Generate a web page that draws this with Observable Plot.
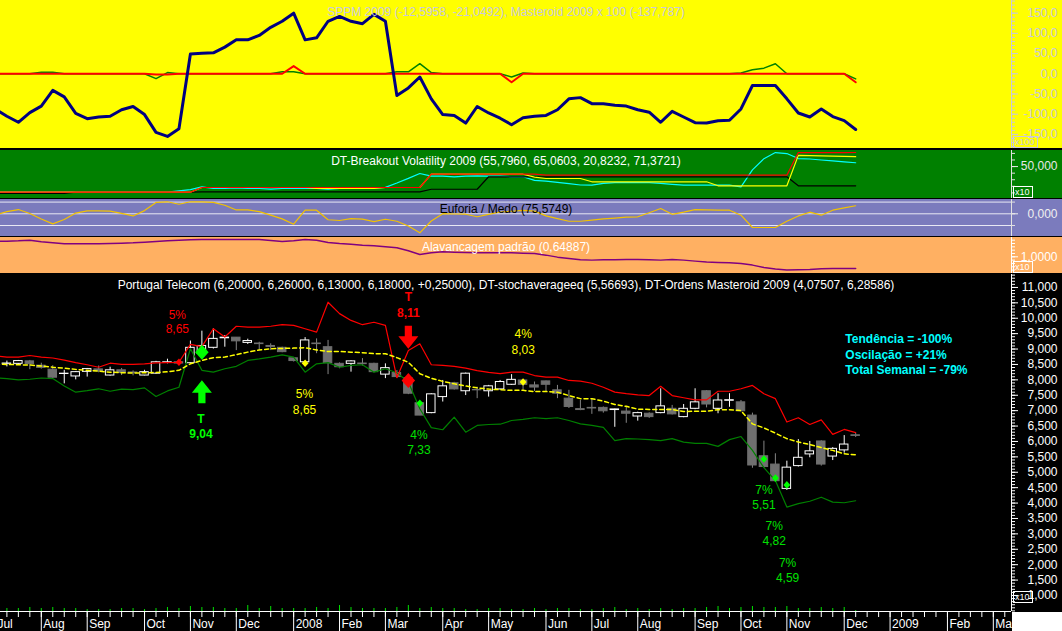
<!DOCTYPE html>
<html>
<head>
<meta charset="utf-8">
<script src="https://cdn.jsdelivr.net/npm/d3@7"></script>
<script src="https://cdn.jsdelivr.net/npm/@observablehq/plot@0.6"></script>
<style>
html,body{margin:0;padding:0;background:#000;}
#wrap{position:relative;width:1062px;height:631px;overflow:hidden;background:#000;font-family:"Liberation Sans",Arial,sans-serif;}
#wrap svg{position:absolute;left:0;display:block;overflow:hidden;}
.box{position:absolute;font:9px/9px "Liberation Sans",Arial,sans-serif;padding:1px 2px 0 1px;border:1px solid;}
#corner{position:absolute;left:1012px;top:612px;width:50px;height:19px;background:#fff;}
</style>
</head>
<body>
<div id="wrap"></div>
<script>
const FONT = '"Liberation Sans", Arial, sans-serif';

// ---------- time axis (weekly bars, dated by Saturday) ----------
const firstBar = new Date(Date.UTC(2007, 6, 14));
const monthNames = ["Jan","Feb","Mar","Apr","May","Jun","Jul","Aug","Sep","Oct","Nov","Dec"];
const axisStart = new Date(Date.UTC(2007, 6, 1));
const axisEnd = new Date(Date.UTC(2009, 3, 1));
const xDomain = [-0.558, 87.585];           // visible bar-index window
const lineIdx = d3.range(-1, 75);           // indicator points (one bar before first candle)
const barIdx = d3.range(0, 75);

// ---------- panel 1: SPPM / Masteroid ----------
const topTitle = "SPPM 2009 (-12,5958, -21,0492), Masteroid 2009 x 100 (-137,787)";
const masteroid = [
  -88,-105,-120,-96,-80,-41,-57,-98,-111,-107,
  -105,-89,-81,-101,-145,-155,-136,49,51,52,
  66,84,84,95,115,130,150,84,89,130,
  142,130,124,147,130,-54,-35,-8,-62,-101,
  -103,-122,-81,-97,-110,-126,-109,-105,-103,-89,
  -62,-59,-74,-74,-78,-80,-89,-95,-120,-93,
  -107,-121,-122,-116,-115,-87,-29,-29,-29,-62,
  -97,-107,-87,-106,-116,-137.787];
const sppmRed = [
  0,0,0,0,0,0,0,0,0,0,
  0,0,0,0,-2,-2,0,0,0,0,
  0,0,0,0,0,0,19,0,0,0,
  0,0,0,0,0,0,0,0,0,0,
  0,0,0,0,0,-21,0,0,0,0,
  0,0,0,0,0,0,0,0,0,0,
  0,0,0,0,0,0,0,0,0,0,
  0,0,0,0,0,-21.0492];
const sppmGreen = [
  0,0,0,0,4,4,0,0,0,0,
  0,0,0,0,-12,3,0,0,0,0,
  0,0,0,0,0,5,5,0,0,0,
  0,0,0,0,0,5,5,25,3,0,
  0,0,0,0,0,-8,2,0,0,0,
  0,0,0,0,0,0,0,0,0,0,
  0,0,0,0,0,2,10,14,25,0,
  0,0,0,0,0,-12.5958];
const topMajor = [-150,-100,-50,0,50,100,150];

// ---------- panel 2: DT-Breakout Volatility ----------
const bvTitle = "DT-Breakout Volatility 2009 (55,7960, 65,0603, 20,8232, 71,3721)";
const bvBlack = [
  9.1,9.1,9.1,9.1,9.1,9.1,9.1,11.1,11.1,11.1,
  11.1,11.1,11.1,11.1,11.1,11.1,11.1,11.1,11.7,11.7,
  11.7,11.7,11.7,11.7,11.7,11.7,11.7,11.7,11.7,11.7,
  11.7,11.7,11.7,11.7,11.7,11.7,11.7,11.7,15.6,15.6,
  15.6,15.6,15.6,34.5,34.5,34.5,34.5,34.5,34.5,34.5,
  34.5,34.5,34.5,34.5,34.5,34.5,34.5,34.5,34.5,34.5,
  34.5,34.5,34.5,34.5,34.5,34.5,34.5,34.5,34.5,34.5,
  20.8,20.8,20.8,20.8,20.8,20.8232];
const bvRed = [
  11.1,11.1,11.1,11.1,11.1,11.1,11.1,11.1,11.1,11.1,
  11.1,11.1,11.1,11.1,11.1,11.1,11.1,11.1,18.2,18.2,
  18.2,18.2,18.2,18.2,18.2,18.2,18.2,18.2,18.2,18.2,
  18.2,18.2,18.2,18.2,18.2,18.2,18.2,18.2,38.4,38.4,
  38.4,38.4,38.4,38.4,38.4,38.4,38.4,38.4,36.9,36.9,
  36.9,36.9,36.9,36.9,36.9,36.9,36.9,36.9,36.9,36.9,
  36.9,36.9,36.9,36.9,36.9,36.9,36.9,36.9,36.9,36.9,
  71.3,71.3,71.3,71.3,71.3,71.3721];
const bvYellow = [
  11.1,11.1,11.1,11.1,11.1,11.1,11.1,11.1,11.1,11.1,
  11.1,11.1,11.1,11.1,11.1,11.1,11.1,11.1,18.2,18.2,
  18.2,18.2,18.2,18.2,18.2,18.2,18.2,18.2,16.7,16.7,
  16.7,16.7,16.7,16.7,18.2,18.2,18.2,18.2,38.4,38.4,
  38.4,38.4,38.4,38.4,38.4,38.4,38.4,34,31.9,31.9,
  31.9,31.9,26.9,26.9,26.9,26.9,26.9,26.9,26.9,26.9,
  26.9,26.9,26.9,20.8,20.8,20.8,20.8,20.8,20.8,20.8,
  67,66.5,66.3,66,65.5,65.0603];
const bvCyan = [
  11.1,11.1,11.1,11.1,11.1,11.1,11.1,11.1,11.1,11.1,
  11.1,11.1,11.1,11.1,11.1,11.1,13.2,15,19.3,16.7,
  16.7,17.5,16.7,16.7,15.8,16.7,16.7,16.7,16.7,15.8,
  16.7,16.7,16.7,17.5,18.5,25,32,39.5,35.4,35.4,
  34.5,35.4,36,35.4,35.4,34.5,34.5,29,27.9,26,
  24,22,21.7,24.5,25.5,25.5,25.5,25.5,24.5,23,
  21.7,21.7,21.7,21.7,21.7,19.3,45,62,71.3,69.8,
  62.2,61.5,60,58.5,57,55.796];

// ---------- panel 3: Euforia / Medo ----------
const emTitle = "Euforia / Medo (75,5749)";
const euforia = [
  -10,20,40,3,-49,-95,-54,7,27,27,
  25,4,-20,30,107,113,90,113,113,108,
  80,36,37,20,-13,-48,-98,34,34,-56,
  -63,-46,-50,-73,-51,-70,-115,-179,-68,1,
  -2,-4,-28,-5,17,24,32,25,-20,-45,
  -70,-70,-60,-48,-40,-32,-28,10,50,-5,
  15,40,37,35,34,-13,-129,-129,-129,-70,
  -20,15,-13,34,55,75.5749];
const emLevels = [-110, 0, 110];

// ---------- panel 4: Alavancagem padrão ----------
const alTitle = "Alavancagem padrão (0,64887)";
const alavancagem = [
  1.47,1.47,1.48,1.50,1.45,1.42,1.39,1.39,1.39,1.39,
  1.40,1.41,1.42,1.44,1.46,1.48,1.50,1.51,1.52,1.52,
  1.52,1.52,1.52,1.52,1.49,1.46,1.48,1.52,1.50,1.43,
  1.40,1.38,1.35,1.33,1.30,1.27,1.18,1.07,1.12,1.15,
  1.14,1.13,1.12,1.12,1.12,1.12,1.11,1.10,1.05,0.99,
  0.95,0.91,0.90,0.91,0.91,0.92,0.92,0.91,0.90,0.92,
  0.90,0.87,0.84,0.83,0.82,0.80,0.75,0.68,0.63,0.60,
  0.61,0.62,0.64,0.65,0.65,0.64887];

// ---------- panel 5: Portugal Telecom weekly ----------
const mainTitle = "Portugal Telecom (6,20000, 6,26000, 6,13000, 6,18000, +0,25000), DT-stochaverageeq (5,56693), DT-Ordens Masteroid 2009 (4,07507, 6,28586)";
const open = [
  8.52,8.52,8.60,8.46,8.33,8.19,8.11,8.26,8.34,8.14,
  8.31,8.24,8.14,8.20,8.56,8.57,8.54,8.85,9.04,9.35,
  9.37,9.20,9.18,9.10,9.04,8.70,8.57,9.18,9.06,8.52,
  8.52,8.53,8.52,8.17,8.22,8.05,7.24,6.92,7.44,7.89,
  7.63,7.67,7.63,7.69,7.84,7.98,7.82,7.95,7.66,7.39,
  7.05,7.09,7.09,7.02,6.97,6.81,6.90,6.92,7.06,6.79,
  7.06,7.63,7.06,7.32,7.27,6.84,5.52,5.25,4.46,5.20,
  5.58,6.00,5.51,5.71,6.20];
const high = [
  8.61,8.63,8.63,8.54,8.46,8.31,8.27,8.37,8.45,8.41,
  8.37,8.29,8.31,8.60,8.67,8.62,9.26,9.58,9.66,9.44,
  9.37,9.32,9.22,9.17,9.06,8.72,9.37,9.33,9.28,8.55,
  8.62,8.69,8.54,8.52,8.30,8.10,7.30,7.55,7.98,7.92,
  8.22,7.76,7.82,7.98,8.17,8.00,7.93,7.96,7.82,7.66,
  7.33,7.39,7.12,7.05,7.11,6.95,6.93,7.71,7.17,7.20,
  7.71,7.65,7.55,7.55,7.33,6.92,6.01,5.60,5.36,6.06,
  6.00,6.02,5.80,6.19,6.26];
const low = [
  8.42,8.50,8.33,8.35,8.05,7.87,8.00,8.09,8.23,8.12,
  8.14,8.13,8.13,8.18,8.52,8.50,8.52,8.75,9.00,9.06,
  8.95,9.15,8.95,8.95,8.88,8.58,8.55,8.85,8.17,8.36,
  8.25,8.45,8.23,8.04,8.05,7.52,6.84,6.90,7.28,7.67,
  7.49,7.39,7.44,7.67,7.82,7.66,7.62,7.62,7.39,7.07,
  7.00,6.88,6.92,6.46,6.59,6.66,6.75,6.90,6.86,6.77,
  7.03,7.09,6.90,7.11,6.96,5.13,5.13,4.68,4.41,5.17,
  5.47,5.20,5.38,5.62,6.13];
const close = [
  8.53,8.61,8.51,8.39,8.07,8.20,8.25,8.35,8.28,8.31,
  8.22,8.22,8.25,8.57,8.57,8.53,9.04,9.10,9.33,9.37,
  9.25,9.26,9.16,9.07,8.90,8.61,9.28,9.16,8.54,8.41,
  8.60,8.51,8.25,8.38,8.09,7.55,6.84,7.53,7.79,7.69,
  8.20,7.66,7.79,7.93,8.00,7.84,7.75,7.84,7.55,7.12,
  7.02,7.07,6.98,7.04,6.90,6.92,6.79,7.14,6.88,7.06,
  7.27,7.20,7.33,7.34,6.98,5.22,5.17,4.71,5.15,5.47,
  5.68,5.25,5.76,5.90,6.18];
const volume = [
  15,15,20,15,20,15,15,10,10,10,
  15,15,10,15,20,15,25,20,20,15,
  15,30,15,25,15,15,15,20,15,30,
  20,15,15,15,20,30,15,20,15,15,
  10,10,15,15,10,10,15,10,15,15,
  10,10,15,20,10,15,10,15,10,15,
  15,20,25,15,20,25,20,20,25,15,
  15,20,15,20,5];
const upperBand = [
  8.78,8.74,8.74,8.79,8.74,8.71,8.64,8.56,8.49,8.41,
  8.54,8.50,8.50,8.52,8.55,8.56,8.57,9.15,9.08,9.66,
  9.39,9.74,9.71,9.71,9.74,9.79,9.77,9.66,9.55,10.52,
  10.15,9.93,9.79,9.87,9.77,8.07,8.95,9.17,8.49,8.47,
  8.44,8.38,8.30,8.24,8.20,8.25,8.25,8.14,8.09,8.09,
  7.98,7.96,7.89,7.76,7.60,7.55,7.51,7.49,7.79,7.49,
  7.42,7.35,7.35,7.63,7.63,7.71,7.82,7.55,7.39,6.63,
  6.77,6.55,6.70,6.23,6.39,6.28586];
const lowerBand = [
  8.07,8.04,8.00,8.02,8.06,8.04,7.80,7.60,7.65,7.71,
  7.63,7.70,7.68,7.74,7.46,7.64,7.76,9.01,8.31,8.25,
  8.36,8.44,8.63,8.68,8.74,8.81,8.74,8.25,8.52,8.56,
  8.41,8.47,8.49,8.25,8.36,8.23,7.93,7.06,6.45,6.38,
  6.79,6.30,6.52,6.55,6.56,6.68,6.72,6.77,6.74,6.77,
  6.68,6.57,6.52,6.46,6.03,6.09,6.08,6.06,6.03,6.09,
  5.98,5.94,5.94,5.84,6.06,6.16,5.71,5.15,4.73,3.87,
  3.98,4.06,4.19,4.03,4.01,4.07507];
const stochAvg = [
  8.51,8.50,8.49,8.48,8.45,8.41,8.38,8.34,8.31,8.28,
  8.25,8.23,8.22,8.23,8.24,8.26,8.31,8.52,8.63,8.72,
  8.74,8.82,8.90,8.97,9.01,9.02,9.03,9.04,8.97,8.92,
  8.92,8.90,8.88,8.85,8.85,8.72,8.57,8.20,8.05,7.95,
  7.87,7.80,7.74,7.70,7.68,7.66,7.66,7.62,7.62,7.60,
  7.49,7.39,7.39,7.31,7.20,7.14,7.05,7.04,7.04,7.04,
  6.97,6.98,6.98,7.03,7.03,7.00,6.57,6.44,6.27,6.09,
  5.98,5.90,5.80,5.71,5.60,5.56693];

// signals
const markerIdx   = [15, 17, 26, 35, 36, 45, 66, 67, 68];
const markerPrice = [8.57, 8.90, 8.54, 7.98, 7.24, 7.93, 5.43, 4.81, 4.59];
const markerColor = ["#ff0000","#00ff00","#ffff00","#ff0000","#00ff00","#ffff00","#00ff00","#00ff00","#00ff00"];
const markerBig   = [false, true, false, true, false, false, false, false, false];
const arrowIdx   = [17, 35];
const arrowPrice = [7.61, 9.38];
const arrowDown  = [false, true];
const arrowColor = ["#00ff00", "#ff0000"];
const labelText  = ["5%","8,65","T","8,11","T","9,04","5%","8,65","4%","7,33","4%","8,03","7%","5,51","7%","4,82","7%","4,59"];
const labelIdx   = [14.86,14.86,35.0,35.0,16.92,16.92,25.95,25.95,35.93,35.93,45.01,45.01,66.0,66.0,66.9,66.9,68.06,68.06];
const labelPrice = [10.09,9.63,10.69,10.18,6.74,6.25,7.55,7.01,6.19,5.71,9.47,8.98,4.41,3.92,3.24,2.75,2.04,1.55];
const labelColor = ["#ff0000","#ff0000","#ff0000","#ff0000","#00ff00","#00ff00","#ffff00","#ffff00","#00e000","#00e000","#ffff00","#ffff00","#00e000","#00e000","#00e000","#00e000","#00e000","#00e000"];
const labelBold  = [false,false,true,true,true,true,false,false,false,false,false,false,false,false,false,false,false,false];
const statsText  = ["Tendência = -100%", "Oscilação = +21%", "Total Semanal = -79%"];
const statsIdx   = 73.1;
const statsPrice = [9.33, 8.81, 8.30];

// ---------- helpers ----------
const wrap = document.getElementById("wrap");
const W = 1062, MR = 51;
const rows = (idx, vals) => idx.map((i, k) => ({i, v: vals[k]}));
const fmt = n => d => d.toFixed(n).replace(".", ",");
const blank = () => "";

function addPlot(top, height, background, yDomain, marks, mb = 0) {
  const svg = Plot.plot({
    width: W, height,
    marginLeft: 0, marginRight: MR, marginTop: 0, marginBottom: mb,
    x: {domain: xDomain, axis: null},
    y: {domain: yDomain, axis: null},
    color: {type: "identity"},
    style: {background, fontFamily: FONT, fontSize: "12px"},
    marks
  });
  svg.style.top = top + "px";
  wrap.appendChild(svg);
  return svg;
}
const yAxis = (ticks, opts) => Plot.axisY({anchor: "right", ticks, label: null, ...opts});
const xAxis = (ticks, opts) => Plot.axisX({anchor: "bottom", ticks, label: null, ...opts});

// ---------- panel 1 ----------
const topGray = "#c8c8dc";
addPlot(0, 148, "#ffff00", [-184.9, 181.4], [
  Plot.line(rows(lineIdx, sppmGreen), {x: "i", y: "v", stroke: "#008000", strokeWidth: 1.5, clip: true}),
  Plot.line(rows(lineIdx, sppmRed), {x: "i", y: "v", stroke: "#ff0000", strokeWidth: 2, clip: true}),
  Plot.line(rows(lineIdx, masteroid), {x: "i", y: "v", stroke: "#000080", strokeWidth: 3, clip: true}),
  Plot.text([topTitle], {frameAnchor: "top", dy: 12, lineAnchor: "middle", fill: topGray, fontSize: 12}),
  Plot.ruleX([xDomain[1]], {stroke: topGray}),
  yAxis(d3.range(-180, 181, 10), {tickSize: 3, tickFormat: blank, color: topGray}),
  yAxis(topMajor, {tickSize: 6, tickPadding: 40, textAnchor: "end", tickFormat: fmt(1), color: topGray, fontSize: 12})
]);

// ---------- panel 2 ----------
addPlot(150, 48, "#008000", [1.52, 74.4], [
  Plot.line(rows(lineIdx, bvCyan), {x: "i", y: "v", stroke: "#00ffff", strokeWidth: 1.2, clip: true}),
  Plot.line(rows(lineIdx, bvBlack), {x: "i", y: "v", stroke: "#000000", strokeWidth: 1.2, clip: true}),
  Plot.line(rows(lineIdx, bvYellow), {x: "i", y: "v", stroke: "#ffff00", strokeWidth: 1.2, clip: true}),
  Plot.line(rows(lineIdx, bvRed), {x: "i", y: "v", stroke: "#ff0000", strokeWidth: 1.2, clip: true}),
  Plot.text([bvTitle], {frameAnchor: "top", dy: 11, lineAnchor: "middle", fill: "#ffffff", fontSize: 12}),
  Plot.ruleX([xDomain[1]], {stroke: "#e0e0e0"}),
  yAxis(d3.range(10, 71, 10), {tickSize: 3, tickFormat: blank, color: "#e0e0e0"}),
  yAxis([50], {tickSize: 6, tickPadding: 40, textAnchor: "end", tickFormat: fmt(3), color: "#e8e8e8", fontSize: 12})
]);

// ---------- panel 3 ----------
addPlot(199, 37, "#7b7bbd", [-213.4, 134.4], [
  Plot.ruleY(emLevels, {stroke: "#e8e8f4", strokeWidth: 1}),
  Plot.line(rows(lineIdx, euforia), {x: "i", y: "v", stroke: "#f2c200", strokeWidth: 1.2, clip: true}),
  Plot.text([emTitle], {frameAnchor: "top", dy: 10, lineAnchor: "middle", fill: "#000000", fontSize: 12}),
  Plot.ruleX([xDomain[1]], {stroke: "#e0e0e0"}),
  yAxis(emLevels, {tickSize: 3, tickFormat: blank, color: "#e0e0e0"}),
  yAxis([0], {tickSize: 6, tickPadding: 40, textAnchor: "end", tickFormat: fmt(3), color: "#f0f0f0", fontSize: 12})
]);

// ---------- panel 4 ----------
addPlot(237, 36, "#ffb062", [0.498, 1.58], [
  Plot.line(rows(lineIdx, alavancagem), {x: "i", y: "v", stroke: "#800080", strokeWidth: 1.5, clip: true}),
  Plot.text([alTitle], {frameAnchor: "top", dy: 10, lineAnchor: "middle", fill: "#ffffff", fontSize: 12}),
  Plot.ruleX([xDomain[1]], {stroke: "#ffffff"}),
  yAxis(d3.range(6, 16, 1).map(d => d / 10), {tickSize: 3, tickFormat: blank, color: "#ffffff"}),
  yAxis([1], {tickSize: 6, tickPadding: 40, textAnchor: "end", tickFormat: fmt(4), color: "#ffffff", fontSize: 12})
]);

// ---------- panel 5 ----------
const candles = barIdx.map(i => {
  const up = close[i] >= open[i];
  return {i, open: open[i], high: high[i], low: low[i], close: close[i],
    body: up ? "#ffffff" : "#6f6f6f", wick: up ? "#ffffff" : "#858585",
    fill: close[i] > open[i] ? "#000000" : (up ? "#ffffff" : "#6f6f6f")};
});
const markers = markerIdx.map((i, k) => ({i, p: markerPrice[k], c: markerColor[k], big: markerBig[k]}));
const arrows = arrowIdx.map((i, k) => ({i, p: arrowPrice[k], rot: arrowDown[k] ? 180 : 0, c: arrowColor[k]}));
const labels = labelText.map((t, k) => ({t, i: labelIdx[k], p: labelPrice[k], c: labelColor[k], b: labelBold[k]}));
const stats = statsText.map((t, k) => ({t, i: statsIdx, p: statsPrice[k]}));

const diamond = {draw(ctx, size) { const r = Math.sqrt(size / Math.PI);
  ctx.moveTo(0, -r); ctx.lineTo(r * 0.9, 0); ctx.lineTo(0, r); ctx.lineTo(-r * 0.9, 0); ctx.closePath(); }};
const arrowSym = {draw(ctx, size) { const r = Math.sqrt(size / Math.PI);
  const top = -r * 1.15, mid = r * 0.1, bot = r * 1.15, hw = r, sw = r * 0.36;
  ctx.moveTo(0, top); ctx.lineTo(hw, mid); ctx.lineTo(sw, mid); ctx.lineTo(sw, bot);
  ctx.lineTo(-sw, bot); ctx.lineTo(-sw, mid); ctx.lineTo(-hw, mid); ctx.closePath(); }};

const months = d3.utcMonths(axisStart, axisEnd).map(m => {
  const sat = d3.utcSaturday.ceil(m);
  return {i: Math.round((sat - firstBar) / 6048e5),
          label: m.getUTCMonth() === 0 ? String(m.getUTCFullYear()) : monthNames[m.getUTCMonth()]};
});
const monthLabel = new Map(months.map(d => [d.i, d.label]));
const priceDomain = [0.48, 11.42];

addPlot(274, 357, "#000000", priceDomain, [
  Plot.ruleX(candles, {x: "i", y1: "low", y2: "high", stroke: "wick", strokeWidth: 1}),
  Plot.rect(candles, {x1: d => d.i - 0.37, x2: d => d.i + 0.37, y1: "open", y2: "close", fill: "fill", stroke: "body", strokeWidth: 1}),
  Plot.line(rows(lineIdx, lowerBand), {x: "i", y: "v", stroke: "#008000", strokeWidth: 1.2, clip: true}),
  Plot.line(rows(lineIdx, upperBand), {x: "i", y: "v", stroke: "#ff0000", strokeWidth: 1.2, clip: true}),
  Plot.line(rows(lineIdx, stochAvg), {x: "i", y: "v", stroke: "#ffff00", strokeWidth: 1.5, strokeDasharray: "4,3", clip: true}),
  Plot.dot(markers.filter(d => !d.big), {x: "i", y: "p", symbol: diamond, r: 3.8, fill: "c"}),
  Plot.dot(markers.filter(d => d.big), {x: "i", y: "p", symbol: diamond, r: 7.5, fill: "c"}),
  Plot.dot(arrows, {x: "i", y: "p", symbol: arrowSym, r: 10, fill: "c", rotate: "rot"}),
  Plot.text(labels.filter(d => !d.b), {x: "i", y: "p", text: "t", fill: "c", fontSize: 12}),
  Plot.text(labels.filter(d => d.b), {x: "i", y: "p", text: "t", fill: "c", fontSize: 12, fontWeight: "bold"}),
  Plot.text(stats, {x: "i", y: "p", text: "t", fill: "#00ffff", fontSize: 12, fontWeight: "bold", textAnchor: "start"}),
  Plot.text([mainTitle], {frameAnchor: "top", dy: 10.5, lineAnchor: "middle", fill: "#ffffff", fontSize: 12}),
  Plot.ruleY([priceDomain[0]], {stroke: "#ffffff"}),
  Plot.ruleX([xDomain[1]], {stroke: "#ffffff"}),
  xAxis(d3.range(0, 88), {tickSize: 6, tickFormat: blank, color: "#ffffff"}),
  xAxis(months.map(d => d.i), {tickSize: 20, tickFormat: blank, color: "#ffffff"}),
  xAxis(months.map(d => d.i), {tickSize: 0, tickPadding: 8, textAnchor: "start", dx: 2, tickFormat: d => monthLabel.get(d), color: "#ffffff", fontSize: 12}),
  yAxis(d3.range(5, 115, 1).map(d => d / 10), {tickSize: 3, tickFormat: blank, color: "#ffffff"}),
  yAxis(d3.range(2, 23, 1).map(d => d / 2), {tickSize: 6, tickPadding: 40, textAnchor: "end", tickFormat: fmt(3), color: "#ffffff", fontSize: 12})
], 20);

// volume sticks (own scale) at the foot of the price panel
addPlot(593, 18, "transparent", [0, 90], [
  Plot.ruleX(rows(barIdx, volume), {x: "i", y1: 0, y2: "v", stroke: "#00e000", strokeWidth: 1})
]);

// scale-multiplier boxes and corner
const boxes = [
  {t: "x100", left: 1013, top: 136, c: topGray},
  {t: "x10", left: 1013, top: 186, c: "#ffffff"},
  {t: "x10", left: 1013, top: 261, c: "#ffffff"},
  {t: "x10", left: 1013, top: 591, c: "#ffffff"}
];
for (const b of boxes) {
  const el = document.createElement("div");
  el.className = "box"; el.textContent = b.t;
  el.style.left = b.left + "px"; el.style.top = b.top + "px";
  el.style.color = b.c; el.style.borderColor = b.c;
  wrap.appendChild(el);
}
const corner = document.createElement("div");
corner.id = "corner";
wrap.appendChild(corner);
</script>
</body>
</html>
